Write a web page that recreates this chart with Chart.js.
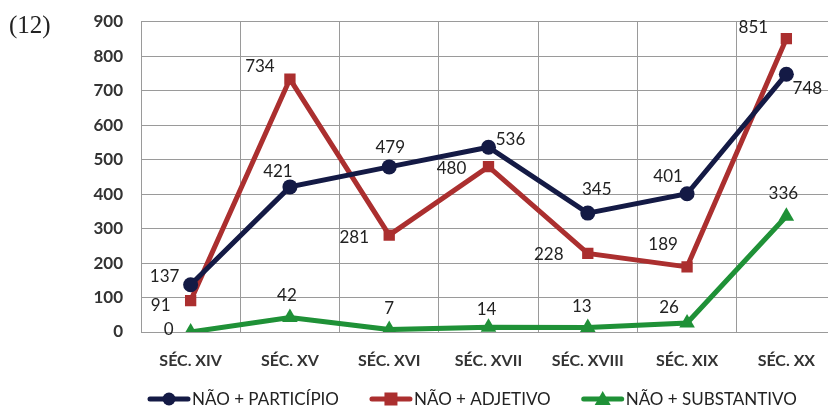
<!DOCTYPE html>
<html>
<head>
<meta charset="utf-8">
<script src="https://cdn.jsdelivr.net/npm/chart.js@4.4.1/dist/chart.umd.min.js"></script>
<style>
  html, body { margin: 0; padding: 0; background: #fff; overflow: hidden; }
  #wrap { position: relative; width: 845px; height: 412px; }
  #num { position: absolute; left: 9px; top: 11px; font-family: "Liberation Serif", "DejaVu Serif", serif; font-size: 25px; color: #222; }
</style>
</head>
<body>
<div id="wrap">
  <div id="num">(12)</div>
  <canvas id="chart" width="845" height="412"></canvas>
</div>
<script>
// Dados
const seculos = ['SÉC. XIV', 'SÉC. XV', 'SÉC. XVI', 'SÉC. XVII', 'SÉC. XVIII', 'SÉC. XIX', 'SÉC. XX'];
const participio = [137, 421, 479, 536, 345, 401, 748];
const adjetivo = [91, 734, 281, 480, 228, 189, 851];
const substantivo = [0, 42, 7, 14, 13, 26, 336];
const yMax = 900;
const yStep = 100;

// Deslocamento dos rótulos em relação ao ponto
const offPart = [[-26, -8], [-12, -15], [1, -19], [22, -8], [9, -24], [-19, -17], [21, 14]];
const offAdj = [[-30, 5], [-30, -13], [-35, 2], [-37, 2], [-39, 1], [-24, -22], [-33, -11]];
const offSubst = [[-22, -2], [-3, -22], [0, -21], [-2, -18], [-6, -21], [-18, -16], [-3, -23]];

const AZUL = '#141a45';
const VERMELHO = '#ab2f2f';
const VERDE = '#1f9137';
const FONTE = 'Lato, "Open Sans", sans-serif';

// legenda desenhada à mão: linha com marcador
function drawIcon(g, x, y, color, style) {
    g.strokeStyle = color; g.lineWidth = 5; g.lineCap = 'round';
    g.beginPath(); g.moveTo(x + 3, y); g.lineTo(x + 41, y); g.stroke();
    g.fillStyle = color;
    const cx = x + 22;
    if (style === 'circle') {
        g.beginPath(); g.arc(cx, y, 6.5, 0, Math.PI * 2); g.fill();
    } else if (style === 'rect') {
        g.fillRect(cx - 6.5, y - 6.5, 13, 13);
    } else {
        g.beginPath(); g.moveTo(cx, y - 8); g.lineTo(cx + 8, y + 6); g.lineTo(cx - 8, y + 6); g.closePath(); g.fill();
    }
}

const customLegend = {
    id: 'customLegend',
    afterDraw(chart) {
        const g = chart.ctx;
        g.save();
        g.font = '17px ' + FONTE;
        g.textBaseline = 'middle';
        g.textAlign = 'left';
        let x = 147;
        const y = 399;
        chart.data.datasets.forEach(ds => {
            drawIcon(g, x, y, ds.borderColor, ds.pointStyle);
            g.fillStyle = '#222';
            g.fillText(ds.label, x + 45, y + 1);
            x += 45 + g.measureText(ds.label).width + 30;
        });
        g.restore();
    }
};

const dataLabels = {
    id: 'dataLabels',
    afterDatasetsDraw(chart) {
        const g = chart.ctx;
        g.save();
        g.font = '17px ' + FONTE;
        g.fillStyle = '#222';
        g.textAlign = 'center';
        g.textBaseline = 'middle';
        chart.data.datasets.forEach((ds, i) => {
            const meta = chart.getDatasetMeta(i);
            meta.data.forEach((pt, j) => {
                const off = ds.labelOffsets[j];
                g.fillText(String(ds.data[j]), pt.x + off[0], pt.y + off[1]);
            });
        });
        g.restore();
    }
};

const ctx = document.getElementById('chart').getContext('2d');
new Chart(ctx, {
    type: 'line',
    data: {
        labels: seculos,
        datasets: [{
            label: 'NÃO + PARTICÍPIO',
            data: participio,
            borderColor: AZUL,
            backgroundColor: AZUL,
            pointStyle: 'circle',
            pointRadius: 7.5,
            labelOffsets: offPart
        }, {
            label: 'NÃO + ADJETIVO',
            data: adjetivo,
            borderColor: VERMELHO,
            backgroundColor: VERMELHO,
            pointStyle: 'rect',
            pointRadius: 8,
            labelOffsets: offAdj
        }, {
            label: 'NÃO + SUBSTANTIVO',
            data: substantivo,
            borderColor: VERDE,
            backgroundColor: VERDE,
            pointStyle: 'triangle',
            pointRadius: 9,
            labelOffsets: offSubst
        }]
    },
    options: {
        responsive: false,
        animation: false,
        elements: {
            line: { borderWidth: 5, tension: 0 },
            point: { borderWidth: 0 }
        },
        layout: { padding: { top: 0, right: 0, bottom: 22.8, left: 0 } },
        plugins: {
            tooltip: { enabled: false },
            legend: { display: false }
        },
        scales: {
            x: {
                offset: true,
                grid: { offset: true, color: '#9a9a9a', drawTicks: false },
                border: { color: '#9a9a9a' },
                ticks: {
                    padding: 19,
                    color: '#333',
                    font: { family: FONTE, size: 16, weight: 'bold' }
                }
            },
            y: {
                min: 0,
                max: yMax,
                afterFit(scale) { scale.width = 141; },
                grid: { color: '#9a9a9a', drawTicks: false },
                border: { color: '#9a9a9a' },
                ticks: {
                    stepSize: yStep,
                    padding: 18,
                    color: '#333',
                    font: { family: FONTE, size: 17, weight: 'bold', lineHeight: 0.45 }
                }
            }
        }
    },
    plugins: [dataLabels, customLegend]
});
</script>
</body>
</html>
